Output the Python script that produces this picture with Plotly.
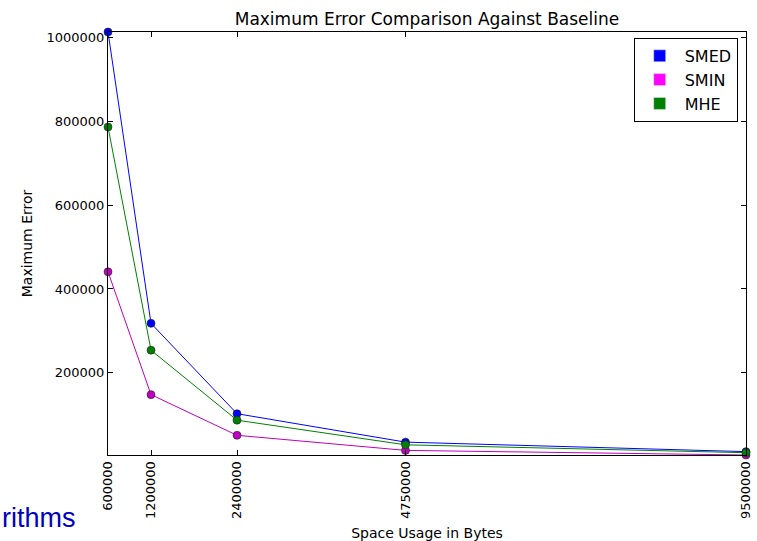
import plotly.graph_objects as go

space_bytes = [600000, 1200000, 2400000, 4750000, 9500000]
smed = [1013000, 318000, 102500, 34700, 12000]
smin = [441000, 148000, 51000, 15000, 4000]
mhe = [786500, 254000, 87000, 28300, 9500]

x_ticks = [600000, 1200000, 2400000, 4750000, 9500000]
y_ticks = [200000, 400000, 600000, 800000, 1000000]

series = [
    ("SMED", smed, "#0000ff", "#0000ff"),
    ("SMIN", smin, "#bf00bf", "#ff00ff"),
    ("MHE", mhe, "#008000", "#008000"),
]

fig = go.Figure()
for name, vals, line_col, legend_col in series:
    fig.add_trace(go.Scatter(
        x=space_bytes, y=vals, mode="lines+markers", name=name,
        line=dict(color=line_col, width=1),
        marker=dict(color=line_col, size=8, line=dict(color="#222222", width=0.6)),
        showlegend=False, cliponaxis=False,
    ))
for name, vals, line_col, legend_col in series:
    fig.add_trace(go.Bar(x=[None], y=[None], name=name,
                         marker=dict(color=legend_col), showlegend=True))

all_vals = smed + smin + mhe
fig.update_layout(
    width=757, height=541,
    margin=dict(l=108, r=11, t=32, b=86, autoexpand=False),
    paper_bgcolor="white", plot_bgcolor="white",
    font=dict(family="DejaVu Sans", size=13, color="black"),
    title=dict(text="Maximum Error Comparison Against Baseline",
               x=427 / 757, xanchor="center", y=1 - 19 / 541, yanchor="middle",
               font=dict(size=17)),
    showlegend=True,
    legend=dict(x=0.987, y=0.986, xanchor="right", yanchor="top",
                bordercolor="black", borderwidth=1, bgcolor="white",
                font=dict(size=16), itemwidth=40, tracegroupgap=2),
    xaxis=dict(range=[min(space_bytes), max(space_bytes)], tickvals=x_ticks,
               ticktext=[str(v) for v in x_ticks], tickangle=-90, automargin=False,
               showline=True, linecolor="black", linewidth=1, mirror="ticks",
               ticks="inside", ticklen=5, tickcolor="black", showgrid=False, zeroline=False,
               title=dict(text="Space Usage in Bytes", font=dict(size=14), standoff=12)),
    yaxis=dict(range=[min(all_vals), max(all_vals)], tickvals=y_ticks,
               ticktext=[str(v) for v in y_ticks], automargin=False,
               showline=True, linecolor="black", linewidth=1, mirror="ticks",
               ticks="inside", ticklen=5, tickcolor="black", showgrid=False, zeroline=False,
               title=dict(text="Maximum Error", font=dict(size=14), standoff=10)),
    annotations=[dict(text="rithms", xref="paper", yref="paper", x=-108 / 638, y=-63 / 423,
                      xanchor="left", yanchor="middle", showarrow=False,
                      font=dict(family="Liberation Sans", size=27, color="#0000c0"))],
)
fig.write_html("out.html", config={"displayModeBar": False},
               post_script="document.body.style.margin='0px';")
